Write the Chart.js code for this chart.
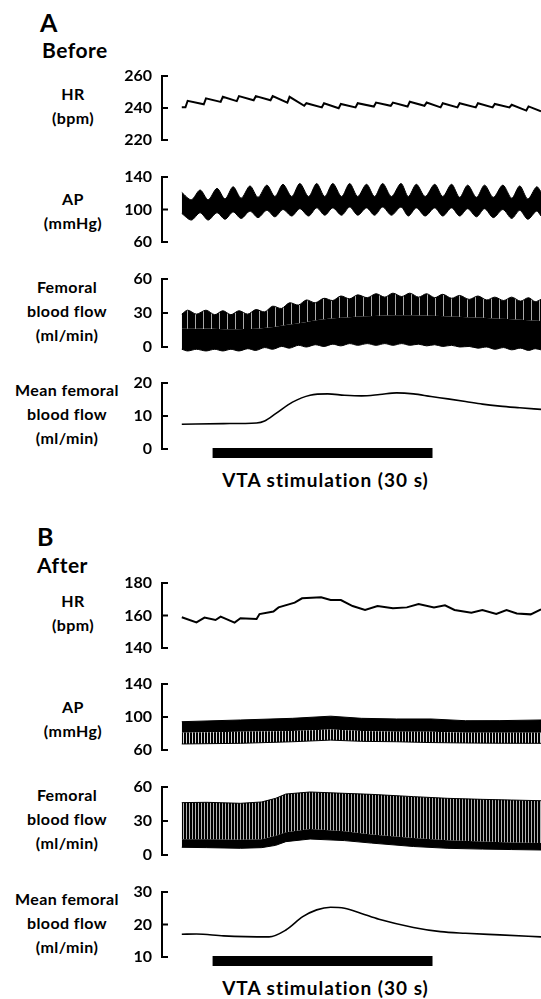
<!DOCTYPE html>
<html>
<head>
<meta charset="utf-8">
<script src="https://cdn.jsdelivr.net/npm/chart.js@4.4.0/dist/chart.umd.min.js"></script>
<style>
body { margin: 0; background: #fff; width: 541px; height: 999px; overflow: hidden; position: relative;
       font-family: Lato, sans-serif; font-weight: bold; color: #000; }
canvas { position: absolute; left: 100px; }
.t { position: absolute; white-space: nowrap; }
.lab { position: absolute; width: 140px; text-align: center; font-size: 16px; line-height: 24px; letter-spacing: 0.4px; }
.vta { position: absolute; left: 175px; width: 301px; text-align: center; font-size: 19px; line-height: 19px; letter-spacing: 1px; }
</style>
</head>
<body>
<div class="t" style="left:40px;top:10px;font-size:25px;line-height:25px">A</div>
<div class="t" style="left:42px;top:39px;font-size:21px;line-height:21px;letter-spacing:0.5px">Before</div>
<div class="t" style="left:37px;top:524px;font-size:25px;line-height:25px">B</div>
<div class="t" style="left:37px;top:554px;font-size:21px;line-height:21px;letter-spacing:0.5px">After</div>

<div class="lab" style="left:3px;top:82px">HR<br>(bpm)</div>
<div class="lab" style="left:3px;top:187px">AP<br>(mmHg)</div>
<div class="lab" style="left:-3px;top:275px">Femoral<br>blood flow<br>(ml/min)</div>
<div class="lab" style="left:-3px;top:378px">Mean femoral<br>blood flow<br>(ml/min)</div>
<div class="vta" style="top:470px">VTA stimulation (30 s)</div>

<div class="lab" style="left:3px;top:589px">HR<br>(bpm)</div>
<div class="lab" style="left:3px;top:695px">AP<br>(mmHg)</div>
<div class="lab" style="left:-3px;top:783px">Femoral<br>blood flow<br>(ml/min)</div>
<div class="lab" style="left:-3px;top:887px">Mean femoral<br>blood flow<br>(ml/min)</div>
<div class="vta" style="top:978px">VTA stimulation (30 s)</div>

<script>
// time in seconds from the start of the record; stimulation lasts 30 s
const stimStart = 4.2;
const stimEnd = 34.2;
const timeMin = -2.7;
const timeMax = 49;

// ---- A: before ----
const hrBeforeTime = [0, 0.5, 0.8, 3.0, 3.3, 5.3, 5.6, 7.5, 7.8, 9.8, 10.1, 12.1, 12.4, 14.4, 14.7, 16.7, 17.0, 19.1, 19.4, 21.4, 21.7,
  23.7, 24.0, 26.2, 26.5, 28.5, 28.8, 30.8, 31.1, 33.1, 33.4, 35.3, 35.6, 37.6, 37.9, 40.1, 40.4, 42.4, 42.7, 44.7, 45.0, 47.0, 47.3, 49.0];
const hrBeforeBpm = [240.5, 240.5, 244.5, 242.3, 246, 243.8, 247, 244.3, 247.4, 244.8, 247.4, 244.8, 247.4, 243.4, 247, 241.4, 243,
  240.4, 243, 239.9, 242.5, 240.4, 243, 240.9, 243.4, 241.4, 243.4, 240.9, 243.9, 241.4, 243.4, 240.4, 243, 240.4, 243, 240.4, 243,
  240.4, 242.5, 240.4, 242, 238.4, 241, 238];

const apBeforeTime = [0, 1.3, 2.5, 3.6, 4.8, 5.9, 7.0, 8.1, 9.3, 10.4, 11.6, 12.7, 13.8, 15.0, 16.1, 17.3, 18.4, 19.5, 20.6, 21.8, 22.9,
  24.0, 25.2, 26.3, 27.4, 28.6, 29.9, 30.9, 32.0, 33.2, 34.5, 35.6, 36.8, 37.9, 39.0, 40.2, 41.3, 42.5, 43.8, 45.0, 46.1, 47.2, 48.4, 49.0];
const apBeforeMax = [121, 112, 124, 112, 126, 113, 128, 114, 129, 115, 130, 116, 131, 116, 132, 116, 132, 116, 132, 116, 132,
  116, 131, 116, 132, 116, 132, 116, 131, 116, 131, 116, 131, 115, 130, 115, 130, 115, 130, 114, 129, 113, 128, 122];
const apBeforeMin = [95, 87, 96, 87, 96, 88, 97, 89, 98, 90, 99, 91, 100, 92, 101, 92, 102, 93, 102, 93, 103,
  93, 102, 93, 103, 93, 103, 92, 102, 92, 102, 92, 102, 92, 101, 91, 101, 90, 100, 89, 99, 88, 98, 92];

const fbfBeforeTime = [0, 0.8, 2.0, 3.3, 4.5, 5.6, 6.7, 7.8, 9.0, 10.1, 11.3, 12.4, 13.6, 14.7, 15.9, 17.0, 18.2, 19.4, 20.6, 21.7,
  22.9, 24.0, 25.3, 26.5, 27.7, 28.8, 30.0, 31.1, 32.3, 33.4, 34.5, 35.6, 36.8, 37.9, 39.2, 40.4, 41.6, 42.7, 43.9, 45.0, 46.2, 47.3, 48.2, 49.0];
const fbfBeforeMax = [29, 32.5, 29, 32.5, 28.5, 32, 28.5, 32, 29, 33, 31, 36, 34, 39, 37, 41.5, 39, 43, 41, 45, 42.5, 46, 43.5, 47,
  44, 47.5, 44.5, 47.5, 44, 47, 43.5, 46.5, 43, 45.5, 42, 45, 41.5, 44, 41, 44, 40.5, 43.5, 40, 42];
const fbfBeforeMin = [-2, -3.5, -2, -3.5, -2, -3.5, -2, -3.5, -1.5, -3, -0.5, -2, 0.5, -1, 1.5, 0, 2, 0.5, 2.5, 1, 3, 1.5, 3, 1.5,
  3, 1.5, 3, 1.5, 2.5, 1, 2, 0.5, 1.5, 0, 0.5, -1, 0, -2, -0.5, -2.5, -1, -3, -1.5, -2.5];
const fbfBeforeDenseTime = [0, 10, 15, 20, 30, 40, 49];
const fbfBeforeDense = [16, 16, 20, 25, 28, 26, 23];

const meanBeforeTime = [0, 5.7, 10.2, 11.3, 12.8, 15.1, 17.5, 19.9, 22.2, 24.5, 27.0, 29.3, 31.6, 34.0, 36.3, 38.7, 41.0, 43.4, 46.1, 49.0];
const meanBeforeFlow = [7.5, 7.7, 7.9, 8.5, 10.7, 14.2, 16.3, 16.7, 16.3, 16.1, 16.5, 17.0, 16.7, 15.9, 15.2, 14.4, 13.6, 13.0, 12.5, 12.0];

// ---- B: after ----
const hrAfterTime = [0, 2.0, 3.1, 4.6, 5.3, 7.2, 8.0, 10.2, 10.6, 12.5, 13.2, 15.4, 16.4, 19.0, 20.3, 21.7, 23.3, 25.0, 26.7, 28.8,
  30.7, 32.3, 34.4, 35.9, 37.2, 39.5, 41.0, 42.9, 44.3, 45.7, 47.6, 49.0];
const hrAfterBpm = [158.9, 155.8, 158.7, 157.2, 159.3, 155.6, 158.3, 157.8, 160.9, 162.4, 165, 167.9, 170.6, 171.2, 169.5, 169.5,
  165.8, 163.4, 165.8, 164.4, 165, 167, 165, 166.3, 163.4, 161.7, 163.4, 160.9, 163.4, 161.3, 160.7, 163.8];

const apAfterTime = [0, 8.0, 15.1, 20.3, 24.5, 29.3, 34.0, 38.7, 43.4, 49.0];
const apAfterMax = [94.3, 96.4, 98.4, 101, 98.4, 97.6, 97.6, 95.5, 95.6, 96.4];
const apAfterDense = [81, 82, 83, 85, 83, 82, 82, 81, 81, 81];
const apAfterMin = [67.3, 68.1, 70, 72, 70.5, 70, 69, 68.5, 68.2, 68.1];

const fbfAfterTime = [0, 3.4, 8.0, 10.9, 12.8, 14.2, 17.5, 22.2, 25.9, 31.6, 36.3, 41.0, 45.0, 49.0];
const fbfAfterMax = [46.2, 46.5, 45.6, 46.8, 50, 53.8, 55.6, 54.4, 53.5, 51.5, 50, 49.1, 48.5, 47.9];
const fbfAfterDense = [14, 14, 13.5, 14, 17, 20, 23, 21, 18, 15, 13, 12, 11, 10.5];
const fbfAfterMin = [6.8, 6.5, 5.9, 6.5, 8.5, 11.8, 14.1, 12.7, 10.5, 7.5, 5.9, 5.2, 4.8, 4.4];

const meanAfterTime = [0, 2.0, 5.7, 11.9, 14.2, 16.5, 18.4, 20.3, 22.2, 24.5, 26.9, 31.6, 35.3, 38.7, 43.4, 49.0];
const meanAfterFlow = [17.0, 17.1, 16.5, 16.2, 18.3, 22.4, 24.5, 25.3, 25.0, 23.4, 21.6, 19.1, 17.8, 17.3, 16.8, 16.2];

// y-axis ticks
const hrBeforeTicks = [220, 240, 260];
const apTicks = [60, 100, 140];
const fbfTicks = [0, 30, 60];
const meanBeforeTicks = [0, 10, 20];
const hrAfterTicks = [140, 160, 180];
const meanAfterTicks = [10, 20, 30];

Chart.defaults.font.family = 'Lato';

function pts(ts, vs) {
  return ts.map((t, i) => ({ x: t, y: vs[i] }));
}

function stripes(dark, light, lightColor) {
  const c = document.createElement('canvas');
  c.width = dark + light;
  c.height = 4;
  const g = c.getContext('2d');
  g.fillStyle = '#000';
  g.fillRect(0, 0, dark, 4);
  g.fillStyle = lightColor;
  g.fillRect(dark, 0, light, 4);
  return g.createPattern(c, 'repeat');
}

function trace(t, v, width, smooth) {
  return { data: pts(t, v), borderColor: '#000', borderWidth: width, pointRadius: 0, fill: false,
           tension: smooth ? 0.4 : 0, cubicInterpolationMode: smooth ? 'monotone' : 'default' };
}

function band(t, v, fillStyle, width, tension) {
  return { data: pts(t, v), borderColor: '#000', borderWidth: width === undefined ? 1 : width, pointRadius: 0,
           fill: fillStyle ? '-1' : false, backgroundColor: fillStyle || 'transparent', tension: tension || 0 };
}

// vertical axis line with short inward ticks
const bracketAxis = {
  id: 'bracketAxis',
  afterDraw(chart) {
    const y = chart.scales.y;
    const ctx = chart.ctx;
    const x0 = chart.chartArea.left;
    const vals = y.ticks.map(t => t.value);
    const top = y.getPixelForValue(Math.max(...vals));
    const bot = y.getPixelForValue(Math.min(...vals));
    ctx.save();
    ctx.strokeStyle = '#000';
    ctx.lineWidth = 2;
    ctx.beginPath();
    ctx.moveTo(x0, top);
    ctx.lineTo(x0, bot);
    vals.forEach(v => {
      const p = y.getPixelForValue(v);
      ctx.moveTo(x0 - 1, p);
      ctx.lineTo(x0 + 6, p);
    });
    ctx.stroke();
    ctx.restore();
  }
};

// stimulation period bar, under the bottom tick of the mean-flow panel
const stimBar = {
  id: 'stimBar',
  afterDraw(chart) {
    const x = chart.scales.x;
    const y = chart.scales.y;
    const base = y.getPixelForValue(Math.min(...y.ticks.map(t => t.value)));
    const x1 = x.getPixelForValue(stimStart);
    const x2 = x.getPixelForValue(stimEnd);
    chart.ctx.save();
    chart.ctx.fillStyle = '#000';
    chart.ctx.fillRect(x1, base - 1, x2 - x1, 10);
    chart.ctx.restore();
  }
};

function panel(topPx, bottomPx, ticks, datasets, extra) {
  const margin = 16;
  const range = bottomPx - topPx;
  const lo = Math.min(...ticks), hi = Math.max(...ticks);
  const ext = (hi - lo) * margin / range;
  const cv = document.createElement('canvas');
  cv.width = 441;
  cv.height = range + 2 * margin;
  cv.style.top = (topPx - margin) + 'px';
  document.body.appendChild(cv);
  return new Chart(cv, {
    type: 'line',
    data: { datasets: datasets },
    options: {
      responsive: false,
      animation: false,
      devicePixelRatio: 1,
      layout: { padding: 0 },
      plugins: { legend: { display: false }, tooltip: { enabled: false } },
      scales: {
        x: { type: 'linear', min: timeMin, max: timeMax, display: false },
        y: {
          type: 'linear',
          min: lo - ext,
          max: hi + ext,
          border: { display: false },
          grid: { display: false, drawTicks: false },
          ticks: { color: '#000', padding: 10, font: { family: 'Lato', weight: 'bold', size: 16 } },
          afterBuildTicks: s => { s.ticks = ticks.map(v => ({ value: v })); },
          afterFit: s => { s.width = 62; s.paddingTop = 0; s.paddingBottom = 0; }
        }
      }
    },
    plugins: [bracketAxis].concat(extra || [])
  });
}

window.onload = function () {
  const sparse = stripes(7, 1, '#a8a8a8');
  const fine = stripes(2, 1, '#b4b4b4');
  const open = stripes(2, 1, '#d8d8d8');

  panel(76, 140, hrBeforeTicks, [trace(hrBeforeTime, hrBeforeBpm, 2, false)]);
  panel(177, 242, apTicks, [
    band(apBeforeTime, apBeforeMin, null, 1, 0.3),
    band(apBeforeTime, apBeforeMax, '#000', 1, 0.3)
  ]);
  panel(279, 347, fbfTicks, [
    band(fbfBeforeTime, fbfBeforeMin, null, 1, 0.3),
    band(fbfBeforeDenseTime, fbfBeforeDense, '#000', 0, 0.3),
    band(fbfBeforeTime, fbfBeforeMax, sparse, 1, 0.3)
  ]);
  panel(383, 449, meanBeforeTicks, [trace(meanBeforeTime, meanBeforeFlow, 1.6, true)], [stimBar]);

  panel(583, 648, hrAfterTicks, [trace(hrAfterTime, hrAfterBpm, 2, false)]);
  panel(684, 750, apTicks, [
    band(apAfterTime, apAfterMin),
    band(apAfterTime, apAfterDense, open, 0),
    band(apAfterTime, apAfterMax, '#000')
  ]);
  panel(787, 855, fbfTicks, [
    band(fbfAfterTime, fbfAfterMin),
    band(fbfAfterTime, fbfAfterDense, '#000', 0),
    band(fbfAfterTime, fbfAfterMax, fine)
  ]);
  panel(892, 957, meanAfterTicks, [trace(meanAfterTime, meanAfterFlow, 1.6, true)], [stimBar]);
};
</script>
</body>
</html>
